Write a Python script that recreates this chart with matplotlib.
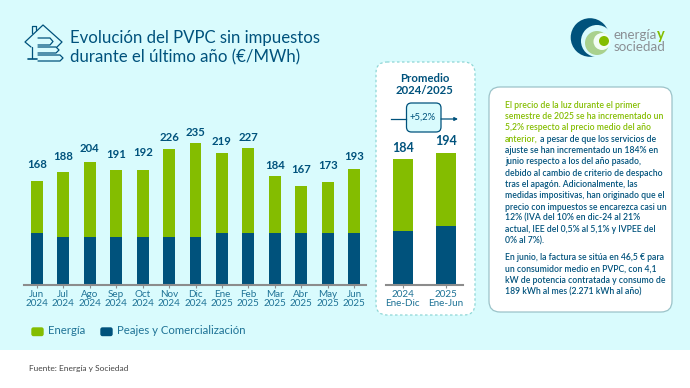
import matplotlib
matplotlib.use("Agg")
import matplotlib.pyplot as plt
from matplotlib.patches import FancyBboxPatch, Circle, Rectangle
from matplotlib.transforms import IdentityTransform, blended_transform_factory
import numpy as np

months = ["Jun\n2024", "Jul\n2024", "Ago\n2024", "Sep\n2024", "Oct\n2024", "Nov\n2024", "Dic\n2024",
          "Ene\n2025", "Feb\n2025", "Mar\n2025", "Abr\n2025", "May\n2025", "Jun\n2025"]
totals = [168, 188, 204, 191, 192, 226, 235, 219, 227, 184, 167, 173, 193]
peajes = [86, 80, 80, 80, 80, 80, 80, 86, 86, 86, 86, 86, 86]
energia = [87, 107, 124, 111, 111, 146, 155, 133, 141, 95, 78, 85, 106]

avg_labels = ["2024\nEne-Dic", "2025\nEne-Jun"]
avg_totals = [184, 194]
avg_peajes = [79, 87]
avg_energia = [106, 107]

green_lines = ["El precio de la luz durante el primer",
               "semestre de 2025 se ha incrementado un",
               "5,2% respecto al precio medio del año",
               "anterior,"]
body_first = " a pesar de que los servicios de"
body_lines = ["ajuste se han incrementado un 184% en",
              "junio respecto a los del año pasado,",
              "debido al cambio de criterio de despacho",
              "tras el apagón. Adicionalmente, las",
              "medidas impositivas, han originado que el",
              "precio con impuestos se encarezca casi un",
              "12% (IVA del 10% en dic-24 al 21%",
              "actual, IEE del 0,5% al 5,1% y IVPEE del",
              "0% al 7%)."]
body2_lines = ["En junio, la factura se sitúa en 46,5 € para",
               "un consumidor medio en PVPC, con 4,1",
               "kW de potencia contratada y consumo de",
               "189 kWh al mes (2.271 kWh al año)"]

BG = "#d9fbfd"
GREEN = "#84bd00"
NAVY = "#00527c"
TICK = "#1f7396"
GREY = "#8c8c8c"
FONT = "Lato"

# extra gap in pixels between bar top and its label, the original places them by hand
label_gap = [9, 8, 6, 8, 10, 4, 3, 4, 3, 3, 9, 9, 5]

plt.rcParams["font.family"] = FONT

fig = plt.figure(figsize=(6.9, 3.88), dpi=100, facecolor="white")
W, H = 690.0, 388.0

bg = fig.add_axes([0, 0, 1, 1])
bg.set_xlim(0, W)
bg.set_ylim(H, 0)
bg.axis("off")
bg.add_patch(Rectangle((0, 0), W, 350, fc=BG, ec="none"))


def px_axes(x0, x1, y0, y1):
    a = fig.add_axes([x0 / W, 1 - y1 / H, (x1 - x0) / W, (y1 - y0) / H])
    a.patch.set_alpha(0)
    for s in ["top", "left", "right"]:
        a.spines[s].set_visible(False)
    a.spines["bottom"].set_color(GREY)
    a.spines["bottom"].set_linewidth(1.5)
    a.set_yticks([])
    return a


# house icon
def line(xs, ys, lw=0.9):
    bg.plot(xs, ys, color=NAVY, lw=lw, solid_capstyle="round", solid_joinstyle="round")


line([31, 25, 43, 62, 57], [47, 42, 25, 42, 47])
line([32, 32, 36, 36], [33, 26, 26, 30])
line([32, 32], [47, 58])
line([28, 37], [59, 59], 1.2)
for yt, yb, xe in [(38, 45, 50), (47, 53, 56), (55, 61, 60)]:
    line([38, xe, xe + 3, xe, 38], [yt, yt, (yt + yb) / 2, yb, yb])

bg.text(70, 38.5, "Evolución del PVPC sin impuestos", color=NAVY, fontsize=12.1, va="center", ha="left")
bg.text(70, 57.5, "durante el último año (€/MWh)", color=NAVY, fontsize=12.1, va="center", ha="left")

# logo
bg.add_patch(Circle((590, 37.5), 19.3, fc=NAVY, ec="none"))
bg.add_patch(Circle((597, 41), 16, fc=BG, ec="none"))
bg.add_patch(Circle((597, 43), 12, fc="#a9d18e", ec="none"))
bg.add_patch(Circle((602, 41.5), 8.5, fc="#f2fdf5", ec="none"))
bg.add_patch(Circle((604, 41), 5, fc=GREEN, ec="none"))
bg.text(614, 35, "energía", color="#8b8f94", fontsize=9.6, va="center", ha="left")
bg.text(657, 35, "y", color=GREEN, fontsize=10.5, va="center", ha="left", fontweight="bold")
bg.text(614, 47, "sociedad", color="#8b8f94", fontsize=9.6, va="center", ha="left")

# main bars
ax = px_axes(24, 366, 100, 285)
x = np.arange(len(months))
ax.bar(x, peajes, width=0.45, color=NAVY)
ax.bar(x, energia, width=0.45, bottom=peajes, color=GREEN)
ax.set_xlim(-0.49, 12.45)
ax.set_ylim(0, 307)
ax.set_xticks(x)
ax.set_xticklabels(months, fontsize=7.1, color=TICK, linespacing=0.95)
ax.tick_params(axis="x", length=2, width=0.8, color=GREY, pad=1.5)
for i, t in enumerate(totals):
    ax.annotate(str(t), (x[i], peajes[i] + energia[i]), xytext=(0, 1.5 + label_gap[i] * 0.72),
                textcoords="offset points", ha="center", va="bottom",
                color=NAVY, fontsize=8.2, fontweight="bold")

# legend
bg.add_patch(FancyBboxPatch((32, 328), 11, 7.5, boxstyle="round,pad=0,rounding_size=1.5",
                            fc=GREEN, ec=GREEN, lw=1))
bg.text(48, 331, "Energía", color=TICK, fontsize=8.2, va="center", ha="left")
bg.add_patch(FancyBboxPatch((101, 328), 11, 7.5, boxstyle="round,pad=0,rounding_size=1.5",
                            fc=NAVY, ec=NAVY, lw=1))
bg.text(117, 331, "Peajes y Comercialización", color=TICK, fontsize=8.2, va="center", ha="left")

bg.text(29, 369, "Fuente: Energía y Sociedad", color="#444444", fontsize=6.05, va="center", ha="left")

# average panel
bg.add_patch(FancyBboxPatch((376, 62), 99, 253, boxstyle="round,pad=0,rounding_size=11",
                            fc="white", ec="#8fd6d6", lw=0.9, ls=(0, (2, 2))))
bg.text(424.5, 78, "Promedio", color=NAVY, fontsize=8.2, fontweight="bold", ha="center", va="center")
bg.text(424.5, 90.5, "2024/2025", color=NAVY, fontsize=8.2, fontweight="bold", ha="center", va="center")
bg.plot([391, 406], [119, 119], color=NAVY, lw=0.9)
bg.annotate("", xy=(458, 119), xytext=(441, 119),
            arrowprops=dict(arrowstyle="-|>", color=NAVY, lw=0.9, mutation_scale=5, shrinkA=0, shrinkB=0))
bg.add_patch(FancyBboxPatch((406.5, 103), 34.5, 29, boxstyle="round,pad=0,rounding_size=5",
                            fc=BG, ec=NAVY, lw=0.9))
bg.text(423, 117.5, "+5,2%", color=NAVY, fontsize=6.8, ha="center", va="center")

ax2 = px_axes(386, 463, 100, 285)
x2 = np.arange(len(avg_labels))
ax2.bar(x2, avg_peajes, width=0.46, color=NAVY)
ax2.bar(x2, avg_energia, width=0.46, bottom=avg_peajes, color=GREEN)
ax2.set_xlim(-0.39, 1.39)
ax2.set_ylim(0, 272)
ax2.set_xticks(x2)
ax2.set_xticklabels(avg_labels, fontsize=7.1, color=TICK, linespacing=0.95)
ax2.tick_params(axis="x", length=2, width=0.8, color=GREY, pad=1.5)
for i, t in enumerate(avg_totals):
    ax2.annotate(str(t), (x2[i], avg_peajes[i] + avg_energia[i]), xytext=(0, 4),
                 textcoords="offset points", ha="center", va="bottom",
                 color=NAVY, fontsize=9, fontweight="bold")

# text box
bg.add_patch(FancyBboxPatch((489, 87), 183, 225, boxstyle="round,pad=0,rounding_size=11",
                            fc="white", ec="#9cc3c9", lw=0.9))
TX, FS, STEP = 505, 6.2, 11.35
y = 105
for s in green_lines:
    last = bg.text(TX, y, s, color=GREEN, fontsize=FS, fontweight="semibold", va="center", ha="left")
    y += STEP
y -= STEP
fig.canvas.draw()
box = last.get_window_extent()
bg.text(box.x1 + 0.5, y, body_first, color=NAVY, fontsize=FS, fontweight="semibold", va="center", ha="left",
        transform=blended_transform_factory(IdentityTransform(), bg.transData))
y += STEP
for s in body_lines:
    bg.text(TX, y, s, color=NAVY, fontsize=FS, fontweight="semibold", va="center", ha="left")
    y += STEP
y += 5
for s in body2_lines:
    bg.text(TX, y, s, color=NAVY, fontsize=FS, fontweight="semibold", va="center", ha="left")
    y += STEP

fig.savefig("out.png", dpi=100, facecolor="white")
